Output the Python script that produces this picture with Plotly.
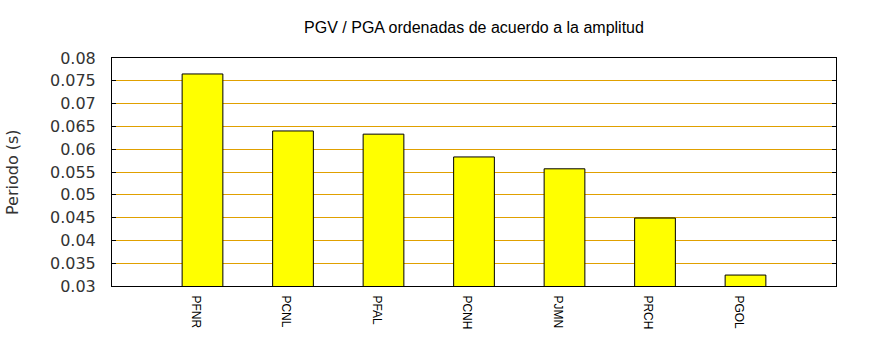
import plotly.graph_objects as go

# Stations ordered by amplitude and their PGV/PGA period
stations = ["PFNR", "PCNL", "PFAL", "PCNH", "PJMN", "PRCH", "PGOL"]
periods = [0.0765, 0.0640, 0.0633, 0.0583, 0.0557, 0.0449, 0.0324]
y_ticks = [0.03, 0.035, 0.04, 0.045, 0.05, 0.055, 0.06, 0.065, 0.07, 0.075, 0.08]
y_tick_text = ["0.03", "0.035", "0.04", "0.045", "0.05", "0.055", "0.06",
               "0.065", "0.07", "0.075", "0.08"]

fig = go.Figure(
    go.Bar(
        x=list(range(len(stations))),
        y=periods,
        width=0.45,
        marker=dict(color="#ffff00", line=dict(color="black", width=1)),
    )
)

fig.update_layout(
    width=870,
    height=350,
    margin=dict(l=112, r=34, t=58, b=64),
    plot_bgcolor="white",
    paper_bgcolor="white",
    showlegend=False,
    title=dict(
        text="PGV / PGA ordenadas de acuerdo a la amplitud",
        x=(112 + 836) / 2 / 870,
        xanchor="center",
        y=1 - 27 / 350,
        yanchor="middle",
        font=dict(family="Liberation Sans", size=16, color="black"),
    ),
    annotations=[
        dict(
            text="Periodo (s)",
            xref="paper",
            yref="paper",
            x=(12 - 112) / 724,
            y=0.5,
            xanchor="center",
            yanchor="middle",
            textangle=-90,
            showarrow=False,
            font=dict(family="DejaVu Sans", size=16, color="#333333"),
        )
    ],
)

fig.update_xaxes(
    range=[-1, 7],
    tickmode="array",
    tickvals=list(range(len(stations))),
    ticktext=stations,
    tickangle=90,
    ticks="",
    ticklabelshift=-7,
    ticklabelstandoff=6,
    tickfont=dict(family="Liberation Sans", size=12, color="black"),
    showgrid=False,
    zeroline=False,
    showline=True,
    linecolor="black",
    linewidth=1,
    mirror=True,
)

fig.update_yaxes(
    range=[0.03, 0.08],
    tickmode="array",
    tickvals=y_ticks,
    ticktext=y_tick_text,
    ticks="inside",
    ticklen=4,
    tickcolor="black",
    ticklabelstandoff=12,
    tickfont=dict(family="DejaVu Sans", size=16, color="#333333"),
    showgrid=True,
    gridcolor="#e0a000",
    gridwidth=1,
    zeroline=False,
    showline=True,
    linecolor="black",
    linewidth=1,
    mirror="ticks",
)

fig.write_html("out.html")
